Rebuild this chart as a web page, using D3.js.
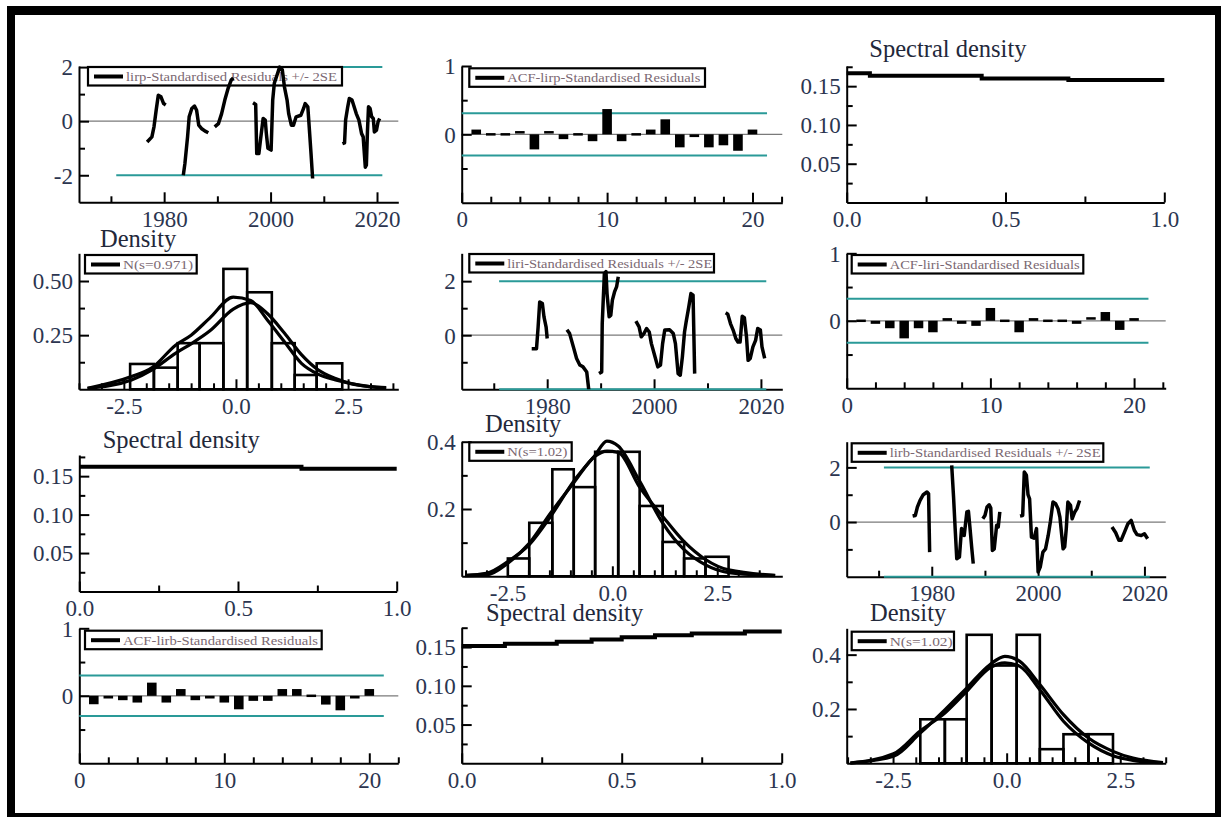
<!DOCTYPE html>
<html><head><meta charset="utf-8">
<script src="https://cdn.jsdelivr.net/npm/d3@7"></script>
<style>
body{margin:0;background:#fff}
svg{display:block}
text{font-family:"Liberation Serif","Times New Roman",serif}
</style>
</head><body>
<script>
// ---------------- DATA ----------------
const yearMajorTicks = [1980, 2000, 2020];
const yearMinorTicks = [1970, 1990, 2010];
const bandYears = [1971, 2021];
const lagMajorTicks = [0, 10, 20];
const lagMinorTicks = [2, 4, 6, 8, 12, 14, 16, 18, 22];
const freqMajorTicks = [0, 0.5, 1.0];
const freqMinorTicks = [0.25, 0.75];
const specMajorTicks = [0.05, 0.10, 0.15];
const specMinorTicks = [0.025, 0.075, 0.125, 0.175];
const densXMajorTicks = [-2.5, 0, 2.5];
const densXMinorTicks = [-3.5, -3, -2, -1.5, -1, -0.5, 0.5, 1, 1.5, 2, 3, 3.5];

const lirpYears = [1976.8,1977.7,1978.1,1978.5,1978.9,1979.4,1979.9,1980.3, 1982,
  1983.6,1983.9,1984.4,1984.7,1985.2,1985.7,1986.1,1986.5,1987.0,1987.7,1988.3, 1989,
  1989.5,1990.2,1990.8,1991.4,1992.0,1992.6,1993.0, 1995,
  1996.7,1997.2,1997.4,1997.8,1998.1,1998.6,1999.0,1999.2,1999.5,2000.1,2000.4,2000.7,2001.2,2001.7,2002.2,2002.6,2003.1,2003.4,2003.9,2004.3,2004.8,2005.7,2006.2,2006.5,2007.0,2007.3,2007.6,2007.9, 2010,
  2013.5,2013.9,2014.1,2014.5,2014.8,2015.3,2015.7,2016.1,2016.6,2017.1,2017.4,2017.8,2018.0,2018.2,2018.4,2018.7,2019.0,2019.3,2019.5,2019.9,2020.2,2020.5];
const lirpResid = [-0.77,-0.58,-0.2,0.4,0.96,0.9,0.65,0.6, null,
  -2.0,-1.57,-0.58,0.16,0.47,0.56,0.4,-0.15,-0.27,-0.37,-0.43, null,
  -0.21,-0.09,0.28,0.78,1.2,1.52,1.6, null,
  0.68,0.62,-1.2,-1.2,-0.7,0.1,0.04,-0.45,-1.0,-1.07,0.78,1.4,1.7,2.0,1.9,1.27,0.78,0.28,-0.15,-0.15,0.16,0.22,0.47,0.65,0.53,-0.33,-1.2,-2.12, null,
  -0.83,-0.8,0.04,0.53,0.84,0.78,0.53,0.28,0.04,-0.46,-0.58,-1.7,-1.63,-0.4,0.53,0.47,0.16,0.1,-0.4,-0.33,-0.02,0.1];

const liriYears = [1977.1,1978.0,1978.3,1978.6,1979.1,1979.4,1979.8,1980.0, 1982,
  1983.7,1984.2,1984.9,1985.5,1986.1,1986.7,1987.4,1987.8, 1988.7,
  1989.7,1990.2,1990.3,1990.7,1991.0,1991.2,1991.6,1991.9,1992.2,1992.6,1993.0,1993.3, 1995,
  1996.6,1997.2,1997.6,1998.1,1998.6,1999.1,1999.5,2000.1,2000.7,2001.2,2001.6,2002.0,2002.9,2003.6,2004.0,2004.5,2004.9,2005.3,2005.7,2006.0,2006.5,2006.9,2007.3,2007.6, 2010,
  2013.4,2013.8,2014.3,2014.8,2015.3,2015.7,2016.1,2016.5,2016.9,2017.3,2017.6,2018.0,2018.5,2019.0,2019.4,2019.9,2020.2,2020.7];
const liriResid = [-0.5,-0.5,0.3,1.23,1.17,0.68,0.3,-0.12, null,
  0.2,0.06,-0.43,-0.86,-1.1,-1.17,-1.36,-2.05, null,
  -1.42,-1.36,0.43,2.28,2.35,1.54,0.68,0.74,1.3,1.6,1.8,2.16, null,
  0.52,0.31,-0.06,0.06,0.25,0.12,-0.31,-0.74,-1.17,-1.1,-0.31,0.19,0.2,0.06,-0.31,-1.42,-1.48,-0.8,0.12,0.49,1.05,1.54,1.48,-1.42, null,
  0.83,0.78,0.43,0.19,-0.12,-0.25,-0.25,0.7,0.65,-0.06,-0.93,-0.86,-0.43,-0.19,0.25,0.19,-0.43,-0.86];

const lirbYears = [1976.4,1976.9,1977.3,1977.8,1978.4,1979.1,1979.4,1979.6, 1982,
  1983.75,1984.1,1984.4,1984.7,1985.2,1985.6,1986.1,1986.6,1986.9,1987.2,1987.5,1987.8, 1988.7,
  1989.6,1990.0,1990.4,1990.8,1991.1,1991.4,1991.75,1992.2,1992.5,1992.8, 1995,
  1996.6,1997.1,1997.4,1997.8,1998.1,1998.4,1998.75,1999.25,1999.7,2000.0,2000.4,2000.9,2001.4,2001.9,2002.3,2002.8,2003.3,2003.75,2004.1,2004.7,2005.0,2005.3,2005.6,2006.1,2006.4,2006.9,2007.3,2007.8, 2010,
  2013.9,2014.6,2015.2,2015.6,2016.25,2016.9,2017.5,2018.1,2018.6,2019.4,2020.0,2020.6];
const lirbResid = [0.22,0.24,0.55,0.79,1.0,1.1,1.04,-1.1, null,
  2.07,0.91,-0.24,-1.34,-1.28,-0.24,-0.49,0.37,0.39,-0.24,-0.91,-1.52, null,
  0.12,0.24,0.55,0.63,0.51,-1.04,-0.98,-0.12,-0.18,0.37, null,
  0.22,0.24,1.83,1.71,1.0,0.85,-0.55,-0.59,-0.24,-1.83,-1.65,-1.1,-0.98,-0.49,0.0,0.73,0.67,0.49,0.18,-0.98,-0.91,-0.24,0.73,0.61,0.12,0.37,0.49,0.79, null,
  -0.18,-0.39,-0.67,-0.67,-0.37,-0.06,0.06,-0.3,-0.46,-0.49,-0.43,-0.61];

const acfLags = [1,2,3,4,5,6,7,8,9,10,11,12,13,14,15,16,17,18,19,20];
const acfLirp = [0.07,-0.01,-0.01,0.03,-0.22,0.03,-0.07,-0.01,-0.10,0.37,-0.10,-0.01,0.07,0.22,-0.19,-0.04,-0.19,-0.16,-0.24,0.07];
const acfLiri = [0.0,-0.045,-0.11,-0.26,-0.11,-0.17,0.04,-0.045,-0.075,0.19,-0.01,-0.17,0.04,-0.01,-0.01,-0.045,0.035,0.13,-0.135,0.04];
const acfLirb = [-0.125,-0.04,-0.065,-0.1,0.195,-0.1,0.1,-0.065,-0.04,-0.1,-0.2,-0.075,-0.075,0.1,0.1,-0.01,-0.13,-0.215,-0.04,0.1];
const acfBands = [0.31, 0.325, 0.30];

const specLirpFreq = [0, 0.073, 0.425, 0.698, 1.0];
const specLirpVal  = [0.1666, 0.1635, 0.1600, 0.1580, 0.1580];
const specLiriFreq = [0, 0.70, 1.0];
const specLiriVal  = [0.1621, 0.1595, 0.1595];
const specLirbFreq = [0, 0.135, 0.297, 0.406, 0.5, 0.604, 0.719, 0.885, 1.0];
const specLirbVal  = [0.1513, 0.1543, 0.1569, 0.1598, 0.1628, 0.1653, 0.1675, 0.1700, 0.1700];

const histLirpEdges = [-2.36,-1.83,-1.30,-0.81,-0.28,0.25,0.80,1.31,1.80,2.37];
const histLirpDens  = [0.117,0.10,0.213,0.213,0.556,0.448,0.213,0.066,0.12];
const densLirpX      = [-3.31,-2.33,-1.87,-1.34,-1.0,-0.58,-0.06,0.33,0.7,1.08,1.46,1.83,2.22,2.98,3.35];
const densLirpKernel = [0.005,0.059,0.10,0.205,0.25,0.33,0.426,0.41,0.32,0.22,0.12,0.07,0.043,0.012,0.006];
const densLirpNormal = [0.004,0.043,0.09,0.167,0.21,0.27,0.37,0.40,0.35,0.26,0.16,0.09,0.05,0.012,0.008];

const histLiriEdges = [-2.49,-1.98,-1.43,-0.92,-0.41,0.14,0.65,1.2,1.71,2.22,2.77];
const histLiriDens  = [0.053,0.159,0.318,0.265,0.37,0.37,0.209,0.102,0.053,0.058];
const densLiriX      = [-3.51,-3.0,-2.49,-1.98,-1.47,-0.92,-0.41,-0.13,0.14,0.65,1.2,1.71,2.22,2.77,3.88];
const densLiriNormal = [0.003,0.009,0.044,0.094,0.178,0.283,0.36,0.402,0.387,0.283,0.158,0.079,0.034,0.011,0.002];
const densLiriKernel = [0.002,0.004,0.039,0.098,0.188,0.278,0.357,0.372,0.368,0.265,0.178,0.103,0.05,0.019,0.003];

const histLirbEdges = [-1.9,-1.36,-0.88,-0.33,0.22,0.73,1.25,1.8,2.34];
const histLirbDens  = [0.162,0.162,0.473,0.36,0.473,0.052,0.107,0.107];
const densLirbX      = [-3.44,-2.49,-1.91,-1.36,-0.88,-0.37,-0.04,0.29,0.73,1.25,1.8,2.34,2.78,3.44];
const densLirbNormal = [0.001,0.026,0.11,0.197,0.277,0.363,0.394,0.375,0.29,0.179,0.093,0.044,0.019,0.003];
const densLirbKernel = [0.001,0.035,0.118,0.185,0.265,0.351,0.37,0.357,0.271,0.155,0.075,0.028,0.011,0.002];

// ---------------- STYLE / LAYOUT ----------------
const W = 1227, H = 817;
const LABEL = '#2b3550', TITLE = '#23283a', LEGTXT = '#7b6872', TEAL = '#2a9a98';
const TICKFONT = '23px', TITLEFONT = '24.5px';
const svg = d3.select('body').append('svg').attr('width', W).attr('height', H);
svg.append('rect').attr('width', W).attr('height', H).attr('fill', '#fff');

// frame
[[7,6,1214,9],[7,6,8,811],[1215,6,6,811],[7,813,1214,4]].forEach(r =>
  svg.append('rect').attr('x',r[0]).attr('y',r[1]).attr('width',r[2]).attr('height',r[3]).attr('fill','#000'));

let clipId = 0;
function makePanel(b, xd, yd) {
  const g = svg.append('g');
  const x = d3.scaleLinear().domain(xd).range([b.l, b.r]);
  const y = d3.scaleLinear().domain(yd).range([b.b, b.t]);
  const id = 'clip' + (clipId++);
  g.append('clipPath').attr('id', id).append('rect')
    .attr('x', b.l).attr('y', b.t - 8).attr('width', b.r - b.l).attr('height', b.b - b.t + 8);
  return {g, x, y, b, clip: `url(#${id})`};
}
function styleAxis(sel) {
  sel.attr('font-family', null).attr('font-size', null);
  sel.selectAll('.domain').attr('stroke', '#000').attr('stroke-width', 2);
  sel.selectAll('.tick line').attr('stroke', '#000').attr('stroke-width', 2);
  sel.selectAll('.tick text').attr('fill', LABEL).style('font-size', TICKFONT)
    .style('font-family', '"Liberation Serif","Times New Roman",serif');
}
function drawAxes(p, xMaj, xMin, xFmt, yMaj, yMin, yFmt) {
  const gx = p.g.append('g').attr('transform', `translate(0,${p.b.b})`)
    .call(d3.axisBottom(p.x).tickValues(xMaj).tickFormat(xFmt).tickSizeInner(-10).tickSizeOuter(0).tickPadding(8));
  styleAxis(gx);
  const gxm = p.g.append('g').attr('transform', `translate(0,${p.b.b})`)
    .call(d3.axisBottom(p.x).tickValues(xMin.filter(v => v >= p.x.domain()[0] && v <= p.x.domain()[1])).tickFormat('').tickSizeInner(-6).tickSizeOuter(0));
  gxm.select('.domain').remove(); styleAxis(gxm);
  const gy = p.g.append('g').attr('transform', `translate(${p.b.l},0)`)
    .call(d3.axisLeft(p.y).tickValues(yMaj).tickFormat(yFmt).tickSizeInner(-10).tickSizeOuter(0).tickPadding(6));
  styleAxis(gy);
  gy.selectAll('.tick text').attr('dy', '0.34em');
  const gym = p.g.append('g').attr('transform', `translate(${p.b.l},0)`)
    .call(d3.axisLeft(p.y).tickValues(yMin.filter(v => v >= p.y.domain()[0] && v <= p.y.domain()[1])).tickFormat('').tickSizeInner(-6).tickSizeOuter(0));
  gym.select('.domain').remove(); styleAxis(gym);
}
function legend(p, leg, text) {
  const g = p.g.append('g');
  g.append('rect').attr('x', leg.x).attr('y', leg.y).attr('width', leg.w).attr('height', 18.5)
    .attr('fill', 'none').attr('stroke', '#000').attr('stroke-width', 2.2);
  g.append('line').attr('x1', leg.x + 6).attr('x2', leg.x + 35).attr('y1', leg.y + 9.5).attr('y2', leg.y + 9.5)
    .attr('stroke', '#000').attr('stroke-width', 4);
  g.append('text').attr('x', leg.x + 38).attr('y', leg.y + 14).attr('fill', LEGTXT)
    .style('font-size', '13px').attr('textLength', leg.tw).attr('lengthAdjust', 'spacingAndGlyphs').text(text);
}
function title(p, t, x, y) {
  p.g.append('text').attr('x', x).attr('y', y).attr('fill', TITLE).style('font-size', TITLEFONT).text(t);
}
function hline(p, v, x0, x1, color, w) {
  p.g.append('line').attr('x1', x0).attr('x2', x1).attr('y1', p.y(v)).attr('y2', p.y(v))
    .attr('stroke', color).attr('stroke-width', w);
}
const numFmt = d => String(d);
const fix1 = d => d.toFixed(1);
const fix2 = d => d.toFixed(2);

// ---- residual time series panel ----
function resPanel(b, yd, years, vals, yMaj, leg, text) {
  const p = makePanel(b, [1964, 2024], yd);
  hline(p, 0, b.l, b.r, '#7a7a7a', 1.2);
  drawAxes(p, yearMajorTicks, yearMinorTicks, numFmt, yMaj, [-1, 1], numFmt);
  hline(p, 2, p.x(bandYears[0]), p.x(bandYears[1]), TEAL, 2);
  hline(p, -2, p.x(bandYears[0]), p.x(bandYears[1]), TEAL, 2);
  legend(p, leg, text);
  const pts = years.map((yr, i) => [yr, vals[i]]);
  p.g.append('path').datum(pts).attr('clip-path', p.clip)
    .attr('d', d3.line().defined(d => d[1] !== null).x(d => p.x(d[0])).y(d => p.y(d[1])))
    .attr('fill', 'none').attr('stroke', '#000').attr('stroke-width', 3.5).attr('stroke-linejoin', 'round');
}
// ---- ACF panel ----
function acfPanel(b, xmax, vals, band, leg, text) {
  const p = makePanel(b, [0, xmax], [-1, 1]);
  hline(p, 0, b.l, b.r, '#7a7a7a', 1.2);
  drawAxes(p, lagMajorTicks, lagMinorTicks, numFmt, [0, 1], [-0.5, 0.5], numFmt);
  hline(p, band, p.x(0), p.x(21), TEAL, 2);
  hline(p, -band, p.x(0), p.x(21), TEAL, 2);
  legend(p, leg, text);
  const bw = p.x(0.66) - p.x(0);
  p.g.selectAll('rect.bar').data(acfLags.map((l, i) => [l, vals[i]])).enter().append('rect')
    .attr('x', d => p.x(d[0]) - bw / 2).attr('width', bw)
    .attr('y', d => Math.min(p.y(d[1]), p.y(0)) - (Math.abs(p.y(d[1]) - p.y(0)) < 2.5 ? 1.25 : 0))
    .attr('height', d => Math.max(Math.abs(p.y(d[1]) - p.y(0)), 2.5))
    .attr('fill', '#000');
}
// ---- spectral panel ----
function specPanel(b, ymax, freq, vals, tx, ty) {
  const p = makePanel(b, [0, 1], [0, ymax]);
  drawAxes(p, freqMajorTicks, freqMinorTicks, fix1, specMajorTicks, specMinorTicks, fix2);
  title(p, 'Spectral density', tx, ty);
  p.g.append('path').datum(freq.map((f, i) => [f, vals[i]]))
    .attr('d', d3.line().curve(d3.curveStepAfter).x(d => p.x(d[0])).y(d => p.y(d[1])))
    .attr('fill', 'none').attr('stroke', '#000').attr('stroke-width', 4);
}
// ---- density panel ----
function densPanel(b, xd, ymax, edges, hv, cx, cA, cB, yMaj, yMin, yFmt, tx, ty, leg, text) {
  const p = makePanel(b, xd, [0, ymax]);
  drawAxes(p, densXMajorTicks, densXMinorTicks, fix1, yMaj, yMin, yFmt);
  title(p, 'Density', tx, ty);
  legend(p, leg, text);
  p.g.selectAll('rect.hist').data(hv.map((v, i) => [edges[i], edges[i + 1], v])).enter().append('rect')
    .attr('x', d => p.x(d[0])).attr('width', d => p.x(d[1]) - p.x(d[0]))
    .attr('y', d => p.y(d[2])).attr('height', d => p.y(0) - p.y(d[2]))
    .attr('fill', 'none').attr('stroke', '#000').attr('stroke-width', 2.6);
  const ln = d3.line().curve(d3.curveMonotoneX).x(d => p.x(d[0])).y(d => p.y(d[1]));
  [cA, cB].forEach(c => p.g.append('path').datum(cx.map((xv, i) => [xv, c[i]])).attr('d', ln)
    .attr('fill', 'none').attr('stroke', '#000').attr('stroke-width', 3.2));
}

// ---------------- PANELS ----------------
resPanel({l:79, r:398.3, t:66, b:202.3}, [-3, 2.04], lirpYears, lirpResid, [-2, 0, 2],
  {x:88, y:67, w:254, tw:211}, 'lirp-Standardised Residuals +/- 2SE');
acfPanel({l:461.7, r:782.3, t:66, b:202.7}, 22.05, acfLirp, acfBands[0],
  {x:469.3, y:68.3, w:235.7, tw:193}, 'ACF-lirp-Standardised Residuals');
specPanel({l:846.7, r:1164.3, t:66, b:202.5}, 0.176, specLirpFreq, specLirpVal, 869.3, 57);

densPanel({l:79, r:398.3, t:253.3, b:389.3}, [-3.5, 3.62], 0.628, histLirpEdges, histLirpDens,
  densLirpX, densLirpKernel, densLirpNormal, [0.25, 0.5], [0.125, 0.375], fix2, 100, 247,
  {x:85, y:255, w:111.7, tw:70}, 'N(s=0.971)');
resPanel({l:461.7, r:782.3, t:253.3, b:389.3}, [-2, 3.03], liriYears, liriResid, [0, 2],
  {x:469.3, y:254, w:244.7, tw:205}, 'liri-Standardised Residuals +/- 2SE');
acfPanel({l:846.7, r:1165.7, t:253.3, b:388.3}, 22.2, acfLiri, acfBands[1],
  {x:851.7, y:255, w:231.6, tw:190}, 'ACF-liri-Standardised Residuals');

specPanel({l:79.3, r:396.7, t:455, b:591.5}, 0.1775, specLiriFreq, specLiriVal, 102.7, 448);
densPanel({l:461.7, r:782.3, t:441.7, b:576.3}, [-3.59, 4.05], 0.4, histLiriEdges, histLiriDens,
  densLiriX, densLiriNormal, densLiriKernel, [0.2, 0.4], [0.1, 0.3], fix1, 485, 432,
  {x:469.3, y:442.3, w:102.4, tw:60}, 'N(s=1.02)');
resPanel({l:846.7, r:1165.7, t:441.7, b:576.7}, [-2, 2.94], lirbYears, lirbResid, [0, 2],
  {x:851.7, y:443.3, w:251.6, tw:211}, 'lirb-Standardised Residuals +/- 2SE');

acfPanel({l:79.3, r:398.3, t:628.3, b:763.3}, 22, acfLirb, acfBands[2],
  {x:85, y:630.7, w:236.7, tw:195}, 'ACF-lirb-Standardised Residuals');
specPanel({l:461.7, r:781.7, t:627.7, b:763.3}, 0.175, specLirbFreq, specLirbVal, 486, 621);
densPanel({l:846.7, r:1165.7, t:628.3, b:763.3}, [-3.52, 3.5], 0.497, histLirbEdges, histLirbDens,
  densLirbX, densLirbNormal, densLirbKernel, [0.2, 0.4], [0.1, 0.3], fix1, 870, 621,
  {x:851.7, y:631.7, w:102.3, tw:63}, 'N(s=1.02)');
</script>
</body></html>
